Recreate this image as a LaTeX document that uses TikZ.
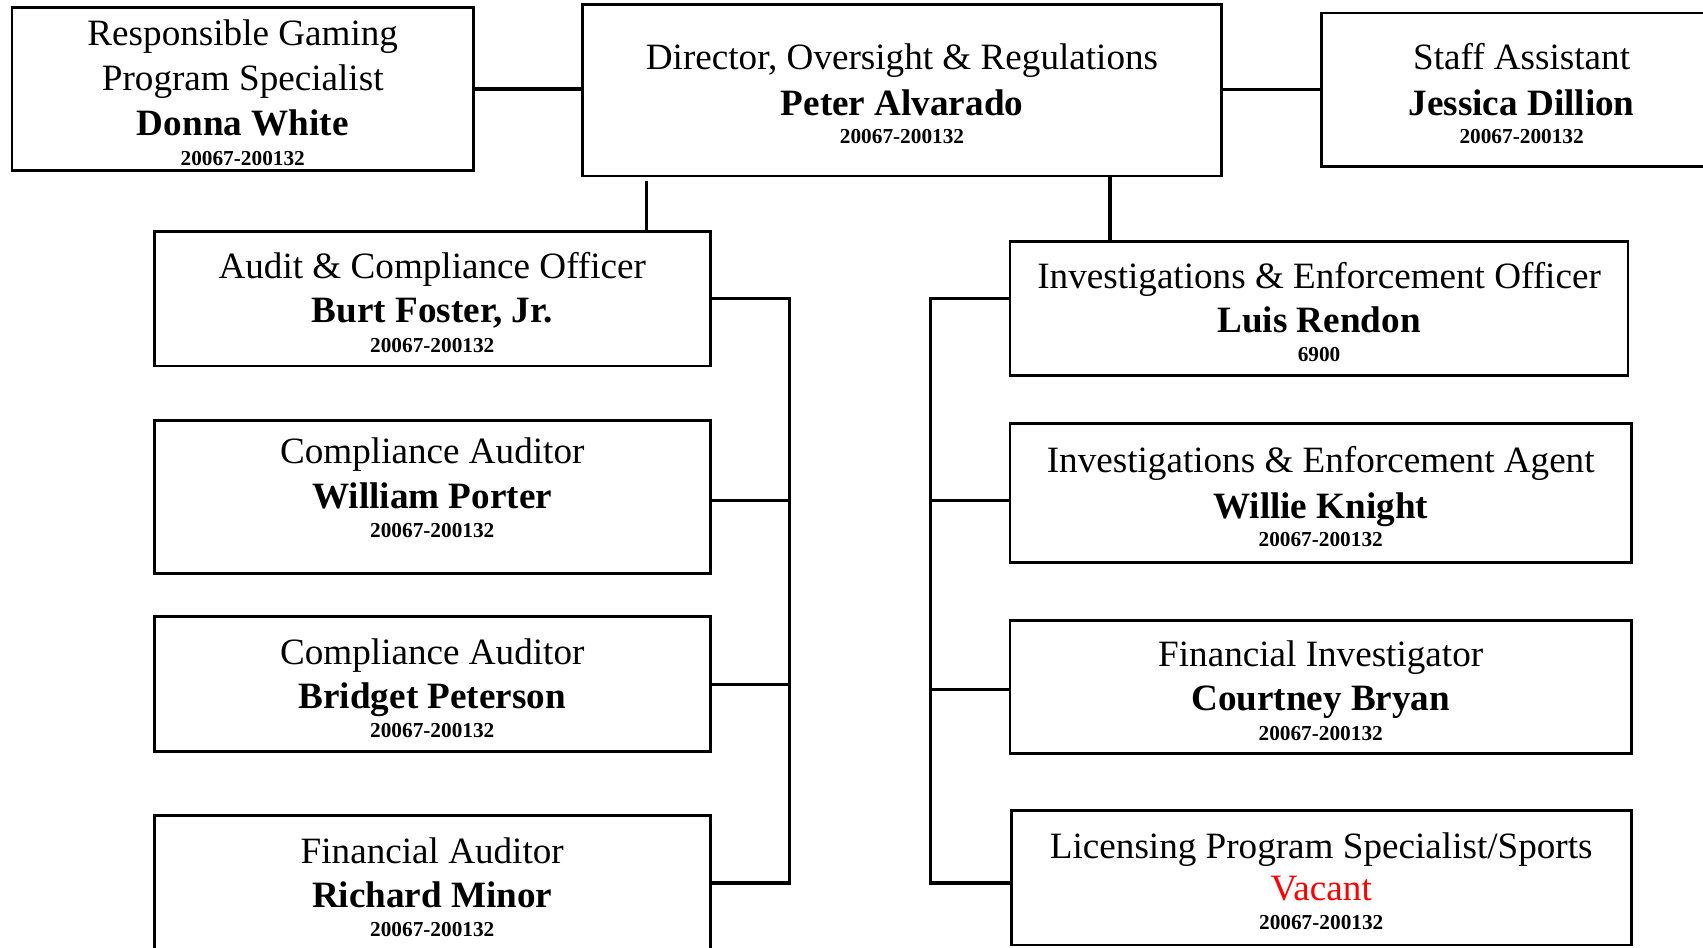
\documentclass[tikz,border=0pt]{standalone}
\usepackage{fontspec}
\setmainfont{Liberation Serif}
\newcommand\titlefnt{\fontsize{34.2}{40}\selectfont}
\newcommand\namefnt{\fontsize{34.2}{40}\selectfont\bfseries}
\newcommand\numfnt{\fontsize{19.6}{23}\selectfont\bfseries}
\definecolor{vacantred}{RGB}{255,0,0}
\tikzset{
  box/.style={draw, line width=2.6pt, inner sep=0pt, outer sep=0pt},
  ttl/.style={anchor=base, inner sep=0pt, font=\titlefnt},
  person/.style={anchor=base, inner sep=0pt, font=\namefnt},
  posno/.style={anchor=base, inner sep=0pt, font=\numfnt},
  link/.style={line width=3pt, line join=miter}
}
\begin{document}
\begin{tikzpicture}[x=1pt, y=-1pt]
\useasboundingbox (0,0) rectangle (1568,872);

% ---- top row ----
\node[box, minimum width=425pt, minimum height=150pt] (donna) at (223.5,82) {};
\node[ttl] (donna-a) at (223.5,42) {Responsible Gaming};
\node[ttl] (donna-b) at (223.5,83.5) {Program Specialist};
\node[person] (donna-n) at (223.5,125) {Donna White};
\node[posno] (donna-p) at (223.5,152) {20067-200132};

\node[box, minimum width=589pt, minimum height=158pt] (dir) at (830.5,83) {};
\node[ttl] (dir-a) at (830.5,64) {Director, Oversight \& Regulations};
\node[person] (dir-n) at (830.5,106) {Peter Alvarado};
\node[posno] (dir-p) at (830.5,132) {20067-200132};

\node[box, minimum width=368pt, minimum height=141pt] (staff) at (1401,82.5) {};
\node[ttl] (staff-a) at (1401,64) {Staff Assistant};
\node[person] (staff-n) at (1401,106) {Jessica Dillion};
\node[posno] (staff-p) at (1401,132) {20067-200132};

% ---- left column ----
\node[box, minimum width=512pt, minimum height=124pt] (audit) at (398,275) {};
\node[ttl] (audit-a) at (398,256) {Audit \& Compliance Officer};
\node[person] (audit-n) at (398,297) {Burt Foster, Jr.};
\node[posno] (audit-p) at (398,325) {20067-200132};

\node[box, minimum width=512pt, minimum height=141pt] (porter) at (398,457.5) {};
\node[ttl] (porter-a) at (398,427) {Compliance Auditor};
\node[person] (porter-n) at (398,468) {William Porter};
\node[posno] (porter-p) at (398,495) {20067-200132};

\node[box, minimum width=512pt, minimum height=124pt] (peterson) at (398,630) {};
\node[ttl] (peterson-a) at (398,612) {Compliance Auditor};
\node[person] (peterson-n) at (398,652) {Bridget Peterson};
\node[posno] (peterson-p) at (398,679) {20067-200132};

\node[box, minimum width=512pt, minimum height=127pt] (minor) at (398,814.5) {};
\node[ttl] (minor-a) at (398,795) {Financial Auditor};
\node[person] (minor-n) at (398,836) {Richard Minor};
\node[posno] (minor-p) at (398,862) {20067-200132};

% ---- right column ----
\node[box, minimum width=569pt, minimum height=124pt] (officer) at (1214.5,284) {};
\node[ttl] (officer-a) at (1214.5,266) {Investigations \& Enforcement Officer};
\node[person] (officer-n) at (1214.5,306) {Luis Rendon};
\node[posno] (officer-p) at (1214.5,333) {6900};

\node[box, minimum width=572pt, minimum height=128pt] (agent) at (1216,454) {};
\node[ttl] (agent-a) at (1216,435) {Investigations \& Enforcement Agent};
\node[person] (agent-n) at (1216,477) {Willie Knight};
\node[posno] (agent-p) at (1216,503) {20067-200132};

\node[box, minimum width=572pt, minimum height=123pt] (fininv) at (1216,632.5) {};
\node[ttl] (fininv-a) at (1216,613.5) {Financial Investigator};
\node[person] (fininv-n) at (1216,654) {Courtney Bryan};
\node[posno] (fininv-p) at (1216,682) {20067-200132};

\node[box, minimum width=571pt, minimum height=124pt] (lic) at (1216.5,808) {};
\node[ttl] (lic-a) at (1216.5,790) {Licensing Program Specialist/Sports};
\node[ttl, text=vacantred] (lic-n) at (1216.5,829) {Vacant};
\node[posno] (lic-p) at (1216.5,856) {20067-200132};

% ---- connectors ----
\draw[link] (donna.east) -- (donna.east -| dir.west);
\draw[link] (staff.west -| dir.east) -- (staff.west);

\coordinate (dirL) at (595,167);
\coordinate (dirR) at (1022,162);
\draw[link] (dirL) -- (dirL |- audit.north);
\draw[link] (dirR) -- (dirR |- officer.north);

% left bus
\coordinate (lb1) at (727,275);
\coordinate (lb2) at (727,461);
\coordinate (lb3) at (727,630);
\coordinate (lb4) at (727,813);
\draw[link] (audit.east |- lb1) -- (lb1) -- (lb4) -- (minor.east |- lb4);
\draw[link] (porter.east |- lb2) -- (lb2);
\draw[link] (peterson.east |- lb3) -- (lb3);

% right bus
\coordinate (rb1) at (857,275);
\coordinate (rb2) at (857,461);
\coordinate (rb3) at (857,635);
\coordinate (rb4) at (857,813);
\draw[link] (officer.west |- rb1) -- (rb1) -- (rb4) -- (lic.west |- rb4);
\draw[link] (agent.west |- rb2) -- (rb2);
\draw[link] (fininv.west |- rb3) -- (rb3);
\end{tikzpicture}
\end{document}
